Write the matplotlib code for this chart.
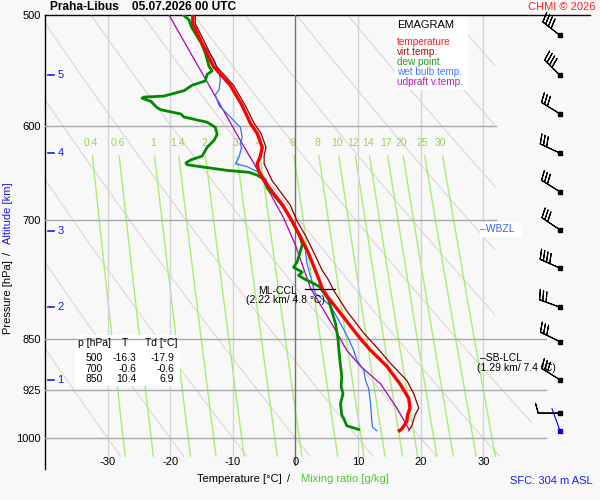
import numpy as np
import matplotlib
matplotlib.use("Agg")
import matplotlib.pyplot as plt
from matplotlib.patches import Rectangle
from matplotlib.ticker import NullLocator

plt.rcParams['font.family'] = ['Liberation Sans', 'DejaVu Sans']

# ---------------- data ----------------
p_ticks = [500, 600, 700, 850, 925, 1000]
t_ticks = [-30, -20, -10, 0, 10, 20, 30]
mix_ratios = [0.4, 0.6, 1, 1.4, 2, 3, 4, 6, 8, 10, 12, 14, 17, 20, 25, 30]
mix_labels = ['0.4', '0.6', '1', '1.4', '2', '3', '4', '6', '8', '10', '12', '14', '17', '20', '25', '30']
theta_lines = [-30, -20, -10, 0, 10, 20, 30, 40, 50, 60, 70, 80, 90]

temp_p = [500, 507, 524, 544, 561, 580, 597, 607, 621, 630, 638, 645, 655, 668, 683, 700, 719, 739, 760,
          772, 783, 793, 815, 838, 850, 866, 889, 915, 937, 952, 963, 973, 982, 985, 988]
temp_t = [-16.4, -16.4, -14.9, -13.1, -10.4, -8.5, -7.2, -6.1, -5.3, -5.6, -6.1, -5.9, -5.1, -3.7, -2.0,
          -0.6, 0.8, 2.1, 3.2, 3.8, 4.3, 5.1, 7.2, 9.3, 10.4, 12.0, 14.6, 16.7, 18.1, 18.3, 17.9, 17.8, 17.2,
          17.0, 16.6]

virt_p = [500, 507, 524, 544, 561, 580, 597, 607, 621, 630, 638, 645, 655, 668, 683, 700, 719, 739, 760,
          772, 785, 812, 842, 862, 885, 910, 930, 952, 963, 980, 988]
virt_t = [-16.0, -16.0, -14.4, -12.6, -9.9, -8.0, -6.6, -5.5, -4.7, -5.0, -5.0, -4.5, -3.8, -2.4, -0.8,
          0.2, 1.7, 3.0, 4.3, 5.3, 6.1, 8.2, 10.9, 13.0, 15.2, 17.8, 18.9, 19.7, 19.1, 18.6, 18.1]

dew_p = [500, 504, 510, 524, 532, 538, 544, 548, 551, 557, 561, 566, 571, 572, 573, 576, 582, 584, 588,
         591, 596, 601, 608, 614, 619, 621, 630, 634, 637, 639, 641, 645, 647, 650, 655, 664, 668, 683,
         700, 719, 728, 749, 756, 762, 766, 770, 775, 780, 797, 812, 829, 850, 862, 880, 904, 919, 930,
         945, 963, 968, 980, 986]
dew_t = [-17.9, -17.0, -16.6, -15.0, -14.4, -14.1, -13.8, -13.3, -14.1, -14.4, -16.5, -17.8, -21.0, -24.2,
         -24.5, -23.1, -22.1, -21.5, -18.3, -17.8, -14.1, -12.8, -12.5, -13.0, -13.8, -14.1, -14.9, -16.7,
         -17.5, -17.3, -15.2, -10.9, -7.4, -6.1, -4.9, -4.5, -3.9, -2.1, -0.6, 0.7, 1.1, 0.3, -0.3, 1.1,
         0.5, 1.3, 2.6, 3.8, 5.3, 5.8, 6.4, 6.8, 6.9, 7.1, 7.4, 7.3, 7.6, 7.2, 7.4, 7.7, 8.2, 10.1]

wet_p = [524, 538, 549, 556, 565, 570, 580, 591, 601, 611, 617, 621, 631, 638, 641, 648, 655, 668, 683,
         700, 719, 735, 750, 773, 789, 805, 829, 850, 866, 880, 894, 910, 922, 945, 973, 982, 988]
wet_t = [-14.8, -13.0, -12.2, -12.0, -12.2, -12.8, -12.2, -10.4, -8.8, -8.5, -8.8, -8.6, -9.0, -9.6, -7.7,
         -5.6, -4.7, -3.8, -2.1, -0.6, 0.8, 1.6, 1.8, 2.6, 3.2, 5.6, 7.2, 8.5, 9.3, 9.8, 10.9, 11.2, 11.7,
         12.0, 12.2, 12.3, 13.0]

parcel_p = [500, 553, 591, 614, 638, 664, 697, 729, 782, 815, 838, 866, 889, 915, 952, 985]
parcel_t = [-20.2, -14.6, -10.9, -8.8, -6.6, -4.5, -1.9, 0.0, 2.4, 4.8, 6.4, 8.2, 10.4, 13.6, 16.2, 18.1]

alt_km = [1, 2, 3, 4, 5]
alt_p = [909, 807, 712, 627, 552]

barb_p = [517, 552, 588, 627, 668, 711, 757, 807, 854, 909, 960]
barb_dir = [308, 315, 302, 295, 302, 304, 294, 290, 296, 302, 270]
barb_spd = [40, 40, 30, 30, 30, 30, 40, 30, 30, 30, 10]
sfc_p = 988
sfc_dir = 340

table_p = [500, 700, 850]
table_t = [-16.3, -0.6, 10.4]
table_td = [-17.9, -0.6, 6.9]

ccl_p, ccl_t = 783, 4.8

# ---------------- figure ----------------
W, H = 600, 500
fig = plt.figure(figsize=(6, 5), dpi=100)
fig.patch.set_facecolor('#f8f8f8')

def fx(x):
    return x / W

def fy(y):
    return 1 - y / H

ax = fig.add_axes([fx(45), fy(469), 545 / W, 454 / H])
ax.set_facecolor('none')
ax.set_yscale('log')
ax.set_ylim(1052, 500)
ax.set_xlim(-40, 47.05)
ax.yaxis.set_minor_locator(NullLocator())
ax.set_yticks(p_ticks)
ax.set_yticklabels([str(p) for p in p_ticks])
ax.tick_params(axis='y', length=0, pad=3, labelsize=8)
ax.set_xticks([])
for s in ['right', 'bottom']:
    ax.spines[s].set_visible(False)
ax.spines['left'].set_linewidth(1.0)
ax.spines['top'].set_linewidth(1.0)

# dry adiabats
pp = np.linspace(500, 1030, 200)
for th in theta_lines:
    tt = (th + 273.15) * (pp / 1000.0) ** 0.2857 - 273.15
    tmax = np.where(pp < 830, 32.0, 32.0 + 8.0 * (pp - 830) / 200.0)
    tt = np.where(tt > tmax, np.nan, tt)
    ax.plot(tt, pp, color='#d8d8d8', lw=0.8, zorder=1)

# mixing ratio lines
pm = np.linspace(630, 1030, 50)
def dewpoint(w, p):
    e = w * p / (622.0 + w)
    a = np.log(e / 6.112)
    return 243.5 * a / (17.67 - a)
for w, lab in zip(mix_ratios, mix_labels):
    ax.plot(dewpoint(w, pm), pm, color='#a8ee70', lw=1.0, zorder=1)
    ax.text(dewpoint(w, 617.0), 617, lab, color='#9ad257', fontsize=7.5, ha='center', va='center', zorder=2)

# white boxes (legend, table, WBZL)
for (x0, y0, x1, y1) in [(395, 15, 468, 90), (75, 335, 180, 386), (480, 222, 522, 237)]:
    ax.add_patch(Rectangle((fx(x0), fy(y1)), (x1 - x0) / W, (y1 - y0) / H, transform=fig.transFigure,
                           facecolor='white', edgecolor='none', zorder=2, clip_on=False))

# grid
for p in p_ticks[1:]:
    xe = 32 if p < 800 else 40
    ax.plot([-40, xe], [p, p], color='#a8a8a8', lw=1.0, zorder=3)
for t in t_ticks:
    if t == 0:
        ax.plot([0, 0], [500, 1045], color='#707070', lw=1.0, zorder=3)
    else:
        ax.plot([t, t], [500, 1031], color='#d4d4d4', lw=1.0, zorder=1.5)
    ax.text(t, 1040, str(t), fontsize=8, ha='center', va='center')

# profiles
ax.plot(parcel_t, parcel_p, color='#b000b0', lw=0.9, zorder=4)
ax.plot(wet_t, wet_p, color='#2f72ff', lw=0.9, zorder=4)
ax.plot(virt_t, virt_p, color='#8b0000', lw=0.9, zorder=4)
ax.plot(dew_t, dew_p, color='#008a00', lw=2.0, zorder=5)
ax.plot(temp_t, temp_p, color='#ff0000', lw=2.4, zorder=6)

# altitude ticks
for km, p in zip(alt_km, alt_p):
    ax.plot([-39.5, -38.6], [p, p], color='#1a1ae6', lw=1.2, zorder=6)
    ax.text(-37.5, p, str(km), color='#1a1ae6', fontsize=8, ha='center', va='center', zorder=6)

# ML-CCL marker
ax.plot([1.6, 6.4], [ccl_p, ccl_p], color='black', lw=0.9, zorder=7)
fig.text(fx(297), fy(291), 'ML-CCL', fontsize=7.5, ha='right', va='center')
fig.text(fx(285), fy(300), '(2.22 km/ %.1f °C)' % ccl_t, fontsize=7.5, ha='center', va='center')

# SB-LCL and WBZL
fig.text(fx(480), fy(358), '–SB-LCL', fontsize=7.5, ha='left', va='center')
fig.text(fx(516), fy(368), '(1.29 km/ 7.4 °C)', fontsize=7.5, ha='center', va='center')
fig.text(fx(480), fy(229), '–WBZL', fontsize=7.5, ha='left', va='center', color='#3366ee')

# wind barbs
bx = 42.26
d = np.deg2rad(barb_dir)
u = -np.array(barb_spd) * np.sin(d)
v = -np.array(barb_spd) * np.cos(d)
ax.barbs([bx] * len(barb_p), barb_p, u, v, length=5.6, linewidth=0.8, color='black',
         sizes=dict(height=0.45, spacing=0.16), zorder=7, clip_on=False)
ax.plot([bx] * len(barb_p), barb_p, 's', color='black', ms=2.2, zorder=8, clip_on=False)
ds = np.deg2rad(sfc_dir)
ax.annotate('', xy=(bx, sfc_p), xytext=(17 * np.sin(ds), 17 * np.cos(ds)),
            textcoords='offset points', arrowprops=dict(arrowstyle='-', color='#0000ee', lw=0.8,
                                                        shrinkA=0, shrinkB=0), zorder=7)
ax.plot([bx], [sfc_p], 's', color='#0000ee', ms=2.2, zorder=8, clip_on=False)

# legend
fig.text(fx(397), fy(25), 'EMAGRAM', fontsize=8, ha='left', va='center')
leg = [('temperature', '#ff1a1a'), ('virt.temp.', '#a01010'), ('dew point', '#1f9a1f'),
       ('wet bulb temp.', '#3d7dff'), ('udpraft v.temp.', '#b020b0')]
for i, (txt, c) in enumerate(leg):
    fig.text(fx(397), fy(42 + 9.9 * i), txt, fontsize=7.2, ha='left', va='center', color=c)

# table
fig.text(fx(78), fy(343), 'p [hPa]', fontsize=7.5, ha='left', va='center')
fig.text(fx(125), fy(343), 'T', fontsize=7.5, ha='center', va='center')
fig.text(fx(145), fy(343), 'Td [°C]', fontsize=7.5, ha='left', va='center')
for i, (p, t, td) in enumerate(zip(table_p, table_t, table_td)):
    yy = 358 + 10.5 * i
    fig.text(fx(103), fy(yy), str(p), fontsize=7.5, ha='right', va='center')
    fig.text(fx(136), fy(yy), '%.1f' % t, fontsize=7.5, ha='right', va='center')
    fig.text(fx(174), fy(yy), '%.1f' % td, fontsize=7.5, ha='right', va='center')

# titles and labels
fig.text(fx(50), fy(7), 'Praha-Libus    05.07.2026 00 UTC', fontsize=8.6, fontweight='bold',
         ha='left', va='center')
fig.text(fx(596), fy(7), 'CHMI © 2026', fontsize=8, color='#ff2020', ha='right', va='center')
fig.text(fx(239), fy(479), 'Temperature [°C]', fontsize=8, ha='center', va='center')
fig.text(fx(289), fy(479), '/', fontsize=8, ha='center', va='center')
fig.text(fx(345), fy(479), 'Mixing ratio [g/kg]', fontsize=8, ha='center', va='center', color='#55c62a')
fig.text(fx(551), fy(481), 'SFC: 304 m ASL', fontsize=8, ha='center', va='center', color='#1a1aff')
fig.text(fx(8), fy(297), 'Pressure [hPa]', fontsize=8, rotation=90, ha='center', va='center')
fig.text(fx(8), fy(253), '/', fontsize=8, rotation=90, ha='center', va='center')
fig.text(fx(8), fy(213), 'Altitude [km]', fontsize=8, rotation=90, ha='center', va='center',
         color='#1a1ae6')

fig.savefig('out.png', dpi=100, facecolor=fig.get_facecolor())
